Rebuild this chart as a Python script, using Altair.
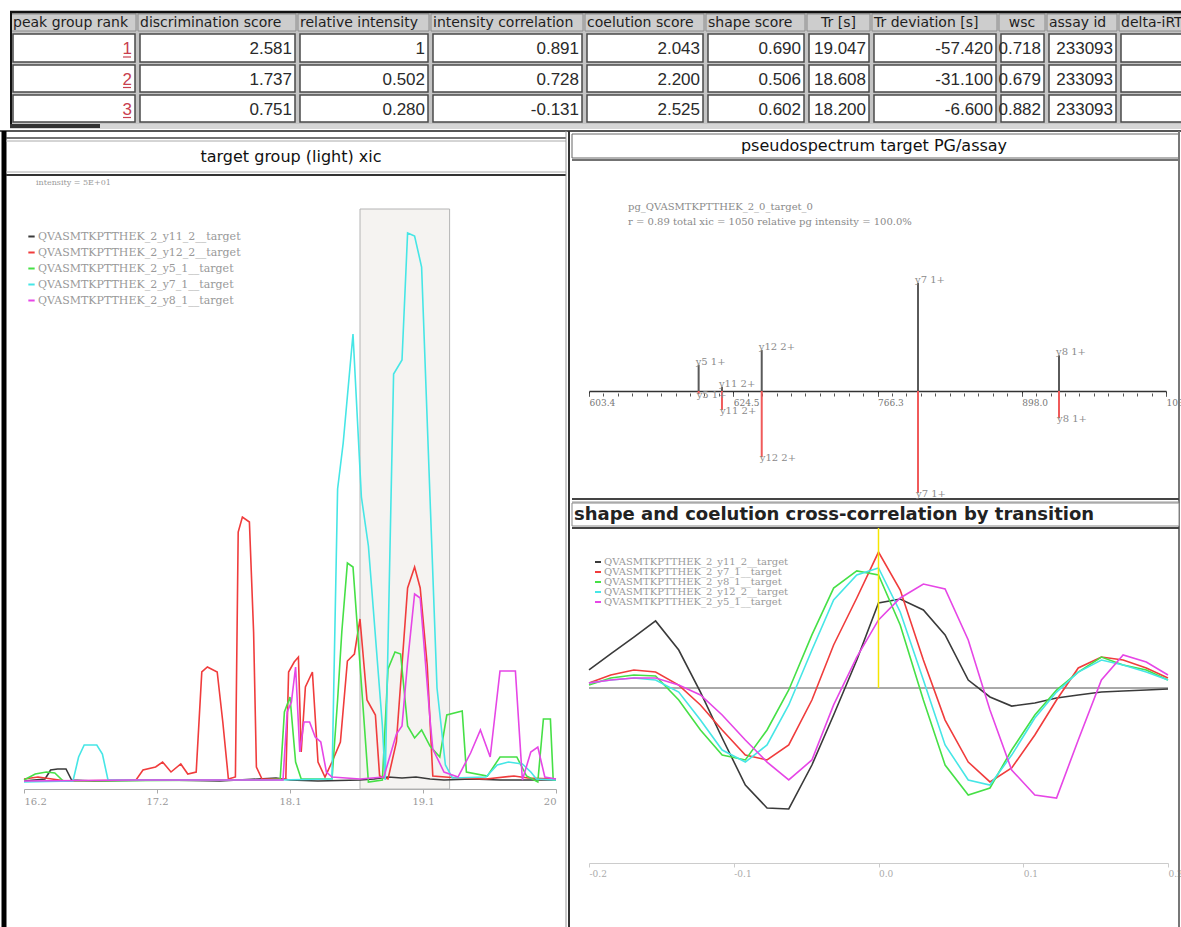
import altair as alt
import pandas as pd

W, H = 1181, 927

# ---------------- table (peak groups) ----------------
table_headers = ["peak group rank", "discrimination score", "relative intensity",
                 "intensity correlation", "coelution score", "shape score", "Tr [s]",
                 "Tr deviation [s]", "wsc", "assay id", "delta-iRT"]
peak_group_rank = ["1", "2", "3"]
discrimination_score = ["2.581", "1.737", "0.751"]
relative_intensity = ["1", "0.502", "0.280"]
intensity_correlation = ["0.891", "0.728", "-0.131"]
coelution_score = ["2.043", "2.200", "2.525"]
shape_score = ["0.690", "0.506", "0.602"]
tr_s = ["19.047", "18.608", "18.200"]
tr_deviation_s = ["-57.420", "-31.100", "-6.600"]
wsc = ["0.718", "0.679", "0.882"]
assay_id = ["233093", "233093", "233093"]
delta_irt = ["", "", ""]

# ---------------- XIC (left panel) ----------------
xic_transitions = ["QVASMTKPTTHEK_2_y11_2__target", "QVASMTKPTTHEK_2_y12_2__target",
                   "QVASMTKPTTHEK_2_y5_1__target", "QVASMTKPTTHEK_2_y7_1__target",
                   "QVASMTKPTTHEK_2_y8_1__target"]
xic_colors = ["#3a3a3a", "#f03c3c", "#46e046", "#46e6e6", "#e646e6"]

y11_2_rt = [16.20, 16.35, 16.39, 16.44, 16.50, 16.54, 16.70, 17.20, 17.60, 18.00, 18.10, 18.30,
            18.60, 18.70, 18.80, 18.90, 19.00, 19.10, 19.20, 19.40, 19.60, 19.80, 20.00]
y11_2_int = [1, 3, 12, 13, 13, 2, 1, 2, 1, 4, 2, 1, 2, 3, 5, 4, 5, 3, 2, 3, 2, 2, 2]

y12_2_rt = [16.20, 16.30, 16.40, 16.50, 17.00, 17.05, 17.14, 17.19, 17.25, 17.32, 17.37, 17.43,
            17.47, 17.51, 17.58, 17.62, 17.66, 17.71, 17.73, 17.76, 17.81, 17.84, 17.86, 17.90,
            18.07, 18.09, 18.13, 18.16, 18.18, 18.21, 18.26, 18.30, 18.35, 18.40, 18.46, 18.51,
            18.56, 18.60, 18.65, 18.71, 18.74, 18.80, 18.86, 18.94, 18.99, 19.03, 19.08, 19.12,
            19.30, 19.50, 19.70, 19.80, 20.00]
y12_2_int = [3, 5, 3, 1, 2, 12, 15, 20, 10, 18, 8, 10,
             110, 115, 110, 60, 3, 5, 250, 265, 260, 150, 15, 3,
             3, 110, 120, 125, 30, 95, 110, 20, 5, 20, 40, 121,
             128, 163, 82, 67, 6, 3, 40, 194, 215, 194, 117, 6,
             4, 3, 6, 4, 3]

y5_1_rt = [16.20, 16.28, 16.36, 16.42, 16.48, 17.90, 18.03, 18.06, 18.10, 18.14, 18.18, 18.40,
           18.44, 18.47, 18.51, 18.55, 18.61, 18.66, 18.76, 18.80, 18.85, 18.89, 18.94, 18.99,
           19.04, 19.10, 19.17, 19.22, 19.33, 19.36, 19.51, 19.60, 19.72, 19.79, 19.87, 19.91,
           19.96, 19.98, 20.00]
y5_1_int = [2, 8, 10, 9, 1, 2, 3, 70, 85, 20, 3, 3,
            82, 150, 219, 215, 98, 0, 2, 113, 130, 128, 56, 44,
            52, 36, 25, 67, 71, 10, 6, 25, 25, 6, 0, 63,
            63, 2, 2]

y7_1_rt = [16.20, 16.55, 16.59, 16.63, 16.72, 16.76, 16.80, 18.00, 18.40, 18.44, 18.48, 18.55,
           18.61, 18.66, 18.76, 18.78, 18.84, 18.90, 18.94, 18.99, 19.04, 19.10, 19.15, 19.21,
           19.26, 19.50, 19.58, 19.66, 19.76, 19.82, 19.86, 20.00]
y7_1_int = [0, 1, 25, 37, 37, 28, 2, 2, 3, 293, 339, 448,
            285, 236, 56, 2, 408, 422, 549, 546, 515, 285, 94, 17,
            4, 5, 17, 20, 18, 10, 3, 2]

y8_1_rt = [16.20, 17.00, 18.05, 18.08, 18.11, 18.14, 18.17, 18.20, 18.24, 18.28, 18.32, 18.36,
           18.40, 18.60, 18.77, 18.86, 18.90, 18.94, 18.99, 19.03, 19.10, 19.12, 19.20, 19.30,
           19.39, 19.46, 19.53, 19.60, 19.71, 19.76, 19.82, 19.87, 19.92, 20.00]
y8_1_int = [1, 2, 2, 70, 80, 115, 30, 60, 60, 45, 40, 10,
            5, 3, 5, 48, 56, 120, 188, 184, 63, 33, 10, 5,
            29, 52, 25, 111, 111, 2, 30, 35, 5, 3]

peak_left_rt = [18.60]
peak_right_rt = [19.24]
xic_tick_values = [16.2, 17.15, 18.1, 19.05, 20.0]
xic_tick_labels = ["16.2", "17.2", "18.1", "19.1", "20"]
xic_note = "intensity = 5E+01"

# ---------------- pseudospectrum (top right) ----------------
ion_labels = ["y5 1+", "y11 2+", "y12 2+", "y7 1+", "y8 1+"]
ion_mz = [603.0, 624.3, 660.6, 803.3, 932.0]
library_intensity = [25, 4, 39, 103, 34]
assay_intensity = [-3, -18, -63, -97, -26]
spec_tick_values = [502.9, 634.6, 766.3, 898.0, 1029.7]
spec_tick_labels = ["603.4", "624.5", "766.3", "898.0", "1030.0"]
spec_line1 = "pg_QVASMTKPTTHEK_2_0_target_0"
spec_line2 = "r = 0.89 total xic = 1050 relative pg intensity = 100.0%"

# ---------------- cross-correlation (bottom right) ----------------
cc_transitions = ["QVASMTKPTTHEK_2_y11_2__target", "QVASMTKPTTHEK_2_y7_1__target",
                  "QVASMTKPTTHEK_2_y8_1__target", "QVASMTKPTTHEK_2_y12_2__target",
                  "QVASMTKPTTHEK_2_y5_1__target"]
cc_colors = ["#3a3a3a", "#f03c3c", "#46e046", "#46e6e6", "#e646e6"]
cc_lag = [-0.2, -0.185, -0.169, -0.154, -0.138, -0.123, -0.108, -0.092, -0.077, -0.062,
          -0.046, -0.031, -0.015, 0.0, 0.015, 0.031, 0.046, 0.062, 0.077, 0.092,
          0.108, 0.123, 0.138, 0.154, 0.169, 0.185, 0.2]
cc_y11_2 = [0.129, 0.243, 0.364, 0.479, 0.271, -0.029, -0.357, -0.693, -0.857, -0.864,
            -0.55, -0.193, 0.2, 0.607, 0.636, 0.557, 0.379, 0.057, -0.064, -0.129,
            -0.107, -0.071, -0.05, -0.029, -0.021, -0.014, -0.007]
cc_y7_1 = [0.036, 0.093, 0.129, 0.114, 0.021, -0.121, -0.3, -0.479, -0.514, -0.407,
           -0.086, 0.307, 0.643, 0.971, 0.7, 0.2, -0.229, -0.529, -0.671, -0.571,
           -0.336, -0.086, 0.143, 0.221, 0.2, 0.143, 0.071]
cc_y8_1 = [0.021, 0.071, 0.093, 0.086, -0.086, -0.3, -0.479, -0.514, -0.3, -0.014,
           0.379, 0.714, 0.836, 0.807, 0.45, -0.086, -0.55, -0.764, -0.714, -0.443,
           -0.193, -0.014, 0.114, 0.221, 0.164, 0.129, 0.057]
cc_y12_2 = [0.036, 0.057, 0.071, 0.057, -0.029, -0.229, -0.443, -0.529, -0.407, -0.121,
            0.271, 0.629, 0.807, 0.857, 0.543, 0.057, -0.407, -0.657, -0.693, -0.479,
            -0.214, -0.029, 0.114, 0.2, 0.164, 0.114, 0.057]
cc_y5_1 = [0.036, 0.057, 0.071, 0.071, 0.021, -0.05, -0.193, -0.371, -0.529, -0.657,
           -0.514, -0.121, 0.221, 0.486, 0.643, 0.743, 0.707, 0.343, -0.157, -0.586,
           -0.764, -0.786, -0.371, 0.057, 0.236, 0.186, 0.093]
cc_tick_values = [-0.2, -0.1, 0.0, 0.1, 0.2]
cc_tick_labels = ["-0.2", "-0.1", "0.0", "0.1", "0.2"]

# ---------------- layout (pixels) ----------------
COL_EDGES = [10, 137, 297, 430, 584, 705, 806, 871, 998, 1046, 1118, 1240]
CENTERED_HEADERS = {"Tr [s]", "wsc"}
HEADER_SPAN = (14, 31)
ROW_SPANS = [(34, 62), (65, 92), (95, 122)]

one = pd.DataFrame({"k": [0]})


def rect(x, x2, y, y2, **kw):
    return alt.Chart(one).mark_rect(**kw).encode(
        x=alt.value(x), x2=alt.value(x2), y=alt.value(y), y2=alt.value(y2))


def hrule(x, x2, y, color, w):
    return alt.Chart(one).mark_rule(color=color, strokeWidth=w).encode(
        x=alt.value(x), x2=alt.value(x2), y=alt.value(y))


def vrule(x, y, y2, color, w):
    return alt.Chart(one).mark_rule(color=color, strokeWidth=w).encode(
        x=alt.value(x), y=alt.value(y), y2=alt.value(y2))


def label(s, x, y, **kw):
    return alt.Chart(one).mark_text(text=s, **kw).encode(x=alt.value(x), y=alt.value(y))


def label_expr(values, labels):
    return ("[" + ",".join(repr(l) for l in labels) + "][indexof(["
            + ",".join(repr(v) for v in values) + "], datum.value)]")


# ---------------- table layers ----------------
columns = [peak_group_rank, discrimination_score, relative_intensity, intensity_correlation,
           coelution_score, shape_score, tr_s, tr_deviation_s, wsc, assay_id, delta_irt]
hdr, cells = [], []
for i, name in enumerate(table_headers):
    a, b = COL_EDGES[i], COL_EDGES[i + 1]
    centered = name in CENTERED_HEADERS
    hdr.append(dict(x1=a + 1, x2=b - 1, y1=HEADER_SPAN[0], y2=HEADER_SPAN[1], label=name,
                    tx=(a + b) / 2 if centered else a + 3, ty=23, centered=centered))
    for r, (ya, yb) in enumerate(ROW_SPANS):
        cells.append(dict(x1=a + 3, x2=b - 2, y1=ya, y2=yb, value=columns[i][r],
                          tx=b - 5, ty=(ya + yb) / 2 + 1, rank=(i == 0)))
hdr_df = pd.DataFrame(hdr)
cell_df = pd.DataFrame(cells)
rank_df = cell_df[cell_df["rank"]].copy()
rank_df["u1"] = rank_df["tx"] - 9
rank_df["u2"] = rank_df["tx"] - 1
rank_df["uy"] = rank_df["ty"] + 8

CX = alt.Scale(domain=[0, W], range=[0, W], nice=False, zero=False)
CY = alt.Scale(domain=[0, H], range=[0, H], nice=False, zero=False)


def cx(f):
    return alt.X(f + ":Q", scale=CX, axis=None)


def cy(f):
    return alt.Y(f + ":Q", scale=CY, axis=None)


layers = []
layers.append(rect(10, 1181, 12, 124, fill="#c4c4c4"))
layers.append(alt.Chart(hdr_df).mark_rect(fill="#cdcdcd", stroke="#8c8c8c", strokeWidth=1).encode(
    x=cx("x1"), x2="x2:Q", y=cy("y1"), y2="y2:Q"))
layers.append(alt.Chart(hdr_df[~hdr_df["centered"]]).mark_text(
    align="left", baseline="middle", font="DejaVu Sans", fontSize=14, color="#1e1e1e").encode(
    x=cx("tx"), y=cy("ty"), text="label:N"))
layers.append(alt.Chart(hdr_df[hdr_df["centered"]]).mark_text(
    align="center", baseline="middle", font="DejaVu Sans", fontSize=14, color="#1e1e1e").encode(
    x=cx("tx"), y=cy("ty"), text="label:N"))
layers.append(alt.Chart(cell_df).mark_rect(fill="white", stroke="#4a4a4a", strokeWidth=1.5).encode(
    x=cx("x1"), x2="x2:Q", y=cy("y1"), y2="y2:Q"))
layers.append(alt.Chart(cell_df[~cell_df["rank"]]).mark_text(
    align="right", baseline="middle", font="Liberation Sans", fontSize=17, color="#2a2a2a").encode(
    x=cx("tx"), y=cy("ty"), text="value:N"))
layers.append(alt.Chart(rank_df).mark_text(
    align="right", baseline="middle", font="Liberation Sans", fontSize=17, color="#c8404f").encode(
    x=cx("tx"), y=cy("ty"), text="value:N"))
layers.append(alt.Chart(rank_df).mark_rule(color="#c8404f", strokeWidth=1.2).encode(
    x=cx("u1"), x2="u2:Q", y=cy("uy")))
layers.append(hrule(10, 1181, 12, "#111111", 2.5))
layers.append(vrule(11, 12, 126, "#111111", 2))
layers.append(rect(10, 1181, 124, 129, fill="#d6d6d6"))
layers.append(rect(10, 100, 124, 128, fill="#333333"))

# ---------------- panel chrome ----------------
layers.append(hrule(0, 1181, 131, "#555555", 2))
# left panel
layers.append(vrule(4, 131, 927, "#000000", 5))
layers.append(hrule(6, 566, 138, "#444444", 1.5))
layers.append(hrule(6, 566, 141, "#aaaaaa", 1))
layers.append(hrule(6, 566, 172, "#aaaaaa", 1))
layers.append(hrule(6, 566, 175, "#333333", 2))
layers.append(vrule(566, 131, 927, "#999999", 1))
layers.append(vrule(569, 131, 927, "#333333", 2))
layers.append(label("target group (light) xic", 291, 157, align="center", baseline="middle",
                    font="DejaVu Sans", fontSize=16, color="#111111"))
layers.append(label(xic_note, 36, 183, align="left", baseline="middle",
                    font="DejaVu Serif", fontSize=8, color="#9a9a9a"))
# right top panel
layers.append(rect(572, 1179, 134, 158, fill="white", stroke="#666666", strokeWidth=1))
layers.append(hrule(572, 1179, 160, "#444444", 1.5))
layers.append(vrule(1179, 131, 927, "#777777", 2))
layers.append(label("pseudospectrum target PG/assay", 874, 146, align="center", baseline="middle",
                    font="DejaVu Sans", fontSize=16, color="#111111"))
layers.append(label(spec_line1, 628, 207, align="left", baseline="middle",
                    font="DejaVu Serif", fontSize=10, color="#8a8a8a"))
layers.append(label(spec_line2, 628, 222, align="left", baseline="middle",
                    font="DejaVu Serif", fontSize=10, color="#8a8a8a"))
# right bottom panel
layers.append(hrule(572, 1179, 499, "#444444", 2))
layers.append(hrule(572, 1179, 502, "#999999", 1))
layers.append(rect(572, 1179, 503, 526, fill="white", stroke="#888888", strokeWidth=1))
layers.append(hrule(572, 1179, 528, "#444444", 2))
layers.append(label("shape and coelution cross-correlation by transition", 574, 515, align="left",
                    baseline="middle", font="DejaVu Sans", fontSize=18, fontWeight="bold",
                    color="#222222"))

# ---------------- XIC layers ----------------
XIC_X = alt.Scale(domain=[16.2, 20.0], range=[24, 556], nice=False, zero=False)
XIC_Y = alt.Scale(domain=[0, 573], range=[782, 209], nice=False, zero=False)

xic_df = pd.concat([
    pd.DataFrame({"transition": name, "rt": rt, "intensity": it})
    for name, rt, it in zip(xic_transitions,
                            [y11_2_rt, y12_2_rt, y5_1_rt, y7_1_rt, y8_1_rt],
                            [y11_2_int, y12_2_int, y5_1_int, y7_1_int, y8_1_int])
], ignore_index=True)

peak_df = pd.DataFrame({"left": peak_left_rt, "right": peak_right_rt})
layers.append(alt.Chart(peak_df).mark_rect(fill="#f5f3f1", stroke="#b4b4b4", strokeWidth=1).encode(
    x=alt.X("left:Q", scale=XIC_X, axis=None), x2="right:Q",
    y=alt.value(209), y2=alt.value(789)))

xic_axis = alt.Axis(orient="bottom", offset=789 - H, values=xic_tick_values,
                    labelExpr=label_expr(xic_tick_values, xic_tick_labels), title=None,
                    grid=False, domainColor="#aaaaaa", tickColor="#aaaaaa", tickSize=4,
                    labelColor="#999999", labelFont="DejaVu Serif", labelFontSize=10,
                    labelPadding=3)
layers.append(alt.Chart(xic_df).mark_line(strokeWidth=1.6).encode(
    x=alt.X("rt:Q", scale=XIC_X, axis=xic_axis),
    y=alt.Y("intensity:Q", scale=XIC_Y, axis=None),
    color=alt.Color("transition:N", scale=alt.Scale(domain=xic_transitions, range=xic_colors),
                    legend=alt.Legend(orient="none", legendX=26, legendY=231, title=None,
                                      symbolType="stroke", symbolStrokeWidth=2, symbolSize=40,
                                      labelFont="DejaVu Serif", labelFontSize=11,
                                      labelColor="#999999", rowPadding=4, labelOffset=1,
                                      padding=0, labelLimit=400)),
))

# ---------------- spectrum layers ----------------
SPEC_X = alt.Scale(domain=[spec_tick_values[0], spec_tick_values[-1]], range=[589, 1166],
                   nice=False, zero=False)
SPEC_Y = alt.Scale(domain=[-100, 100], range=[496, 286], nice=False, zero=False)
spec_df = pd.DataFrame({"ion": ion_labels, "mz": ion_mz, "library": library_intensity,
                        "assay": assay_intensity, "base": [0] * len(ion_labels)})
step = (spec_tick_values[-1] - spec_tick_values[0]) / 40
spec_minor = [round(spec_tick_values[0] + k * step, 4) for k in range(41)]

spec_major_axis = alt.Axis(orient="bottom", offset=391 - H, values=spec_tick_values,
                           labelExpr=label_expr(spec_tick_values, spec_tick_labels), title=None,
                           grid=False, domainColor="#333333", domainWidth=1.5,
                           tickColor="#333333", tickSize=5, labelAlign="left",
                           labelColor="#777777", labelFont="DejaVu Serif", labelFontSize=9,
                           labelPadding=2)
spec_minor_axis = alt.Axis(orient="bottom", offset=393 - H, values=spec_minor, labels=False,
                           domain=False, title=None, grid=False, tickColor="#555555",
                           tickSize=3)
layers.append(alt.Chart(spec_df).mark_rule(color="#5a5a5a", strokeWidth=2).encode(
    x=alt.X("mz:Q", scale=SPEC_X, axis=spec_major_axis),
    y=alt.Y("library:Q", scale=SPEC_Y, axis=None), y2="base:Q"))
layers.append(alt.Chart(spec_df).mark_rule(color="#f05a5a", strokeWidth=2).encode(
    x=alt.X("mz:Q", scale=SPEC_X, axis=spec_minor_axis),
    y=alt.Y("assay:Q", scale=SPEC_Y, axis=None), y2="base:Q"))
layers.append(alt.Chart(spec_df).mark_text(
    align="left", baseline="middle", dx=-3, dy=-3, font="DejaVu Serif", fontSize=10,
    color="#8a8a8a").encode(
    x=alt.X("mz:Q", scale=SPEC_X, axis=None),
    y=alt.Y("library:Q", scale=SPEC_Y, axis=None), text="ion:N"))
layers.append(alt.Chart(spec_df).mark_text(
    align="left", baseline="middle", dx=-2, dy=1, font="DejaVu Serif", fontSize=10,
    color="#8a8a8a").encode(
    x=alt.X("mz:Q", scale=SPEC_X, axis=None),
    y=alt.Y("assay:Q", scale=SPEC_Y, axis=None), text="ion:N"))

# ---------------- cross-correlation layers ----------------
CC_X = alt.Scale(domain=[-0.2, 0.2], range=[589, 1168], nice=False, zero=False)
CC_Y = alt.Scale(domain=[-1, 1], range=[828, 548], nice=False, zero=False)
cc_df = pd.concat([
    pd.DataFrame({"transition": name, "lag": cc_lag, "corr": vals})
    for name, vals in zip(cc_transitions, [cc_y11_2, cc_y7_1, cc_y8_1, cc_y12_2, cc_y5_1])
], ignore_index=True)
zero_df = pd.DataFrame({"lag": [0.0], "zero": [0.0]})

layers.append(alt.Chart(zero_df).mark_rule(color="#555555", strokeWidth=1).encode(
    y=alt.Y("zero:Q", scale=CC_Y, axis=None), x=alt.value(589), x2=alt.value(1168)))
cc_axis = alt.Axis(orient="bottom", offset=863 - H, values=cc_tick_values,
                   labelExpr=label_expr(cc_tick_values, cc_tick_labels), title=None, grid=False,
                   domainColor="#cccccc", tickColor="#cccccc", tickSize=4, labelAlign="left",
                   labelColor="#aaaaaa", labelFont="DejaVu Serif", labelFontSize=9,
                   labelPadding=2)
layers.append(alt.Chart(cc_df).mark_line(strokeWidth=1.6).encode(
    x=alt.X("lag:Q", scale=CC_X, axis=cc_axis),
    y=alt.Y("corr:Q", scale=CC_Y, axis=None),
    color=alt.Color("transition:N", scale=alt.Scale(domain=cc_transitions, range=cc_colors),
                    legend=alt.Legend(orient="none", legendX=593, legendY=557, title=None,
                                      symbolType="stroke", symbolStrokeWidth=2, symbolSize=36,
                                      labelFont="DejaVu Serif", labelFontSize=10,
                                      labelColor="#9a9a9a", rowPadding=0, labelOffset=1,
                                      padding=0, labelLimit=400)),
))
layers.append(alt.Chart(zero_df).mark_rule(color="#f5e600", strokeWidth=1.5).encode(
    x=alt.X("lag:Q", scale=CC_X, axis=None),
    y=alt.Y("zero:Q", scale=CC_Y, axis=None), y2=alt.value(528)))

chart = alt.layer(*layers).properties(
    width=W, height=H, padding=0, background="white",
    autosize=alt.AutoSizeParams(type="none"),
).resolve_scale(
    x="independent", y="independent", color="independent"
).resolve_axis(
    x="independent", y="independent"
).resolve_legend(
    color="independent"
).configure_view(strokeWidth=0).configure_axis(grid=False)

chart.save("out.html", embed_options={"renderer": "svg", "actions": False})
